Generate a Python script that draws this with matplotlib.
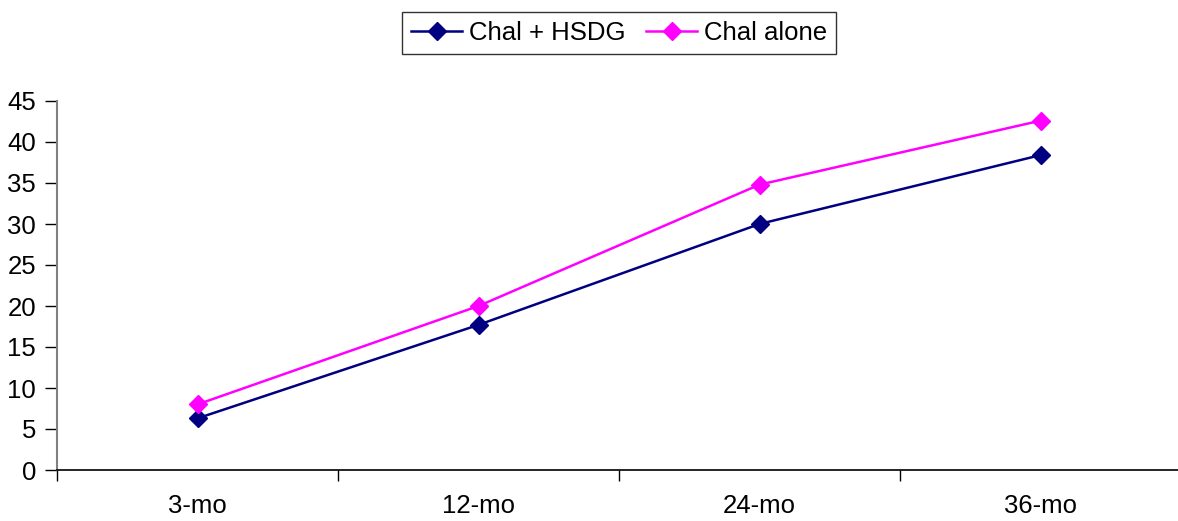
import numpy as np
import matplotlib.pyplot as plt
import matplotlib.ticker as ticker

plt.rcParams['font.family'] = ['Liberation Sans', 'DejaVu Sans']

# data
periods = ["3-mo", "12-mo", "24-mo", "36-mo"]
chal_hsdg = [6.3, 17.7, 30.0, 38.4]
chal_alone = [8.0, 20.0, 34.8, 42.6]

fig = plt.figure(figsize=(11.78, 5.21), dpi=100)
ax = fig.add_axes([57 / 1178, 51 / 521, 1124 / 1178, 369 / 521])

x = np.arange(len(periods))
ax.plot(x, chal_hsdg, color="#000080", lw=1.8, marker="D", ms=9, label="Chal + HSDG")
ax.plot(x, chal_alone, color="#FF00FF", lw=1.8, marker="D", ms=9, label="Chal alone")

ax.set_xlim(-0.5, len(periods) - 0.5)
ax.set_ylim(0, 45)
ax.yaxis.set_major_locator(ticker.MultipleLocator(5))
ax.set_xticks(x)
ax.set_xticklabels(periods)
ax.set_xticks(np.arange(len(periods) + 1) - 0.5, minor=True)

ax.tick_params(axis="x", which="major", length=0, pad=17, labelsize=18.5)
ax.tick_params(axis="x", which="minor", length=8, width=1, direction="out")
ax.tick_params(axis="y", length=9, width=1, pad=6, labelsize=18.5, color="black")

for s in ["top", "right"]:
    ax.spines[s].set_visible(False)
ax.spines["left"].set_color("#808080")
ax.spines["left"].set_linewidth(1.5)
ax.spines["bottom"].set_linewidth(1.2)

leg = fig.legend(loc="center", bbox_to_anchor=(619 / 1178, 1 - 33 / 521), ncol=2,
                 fontsize=18.5, frameon=True, fancybox=False, handlelength=2.0,
                 handletextpad=0.25, columnspacing=0.8, borderpad=0.35)
leg.get_frame().set_edgecolor("black")
leg.get_frame().set_linewidth(1)

fig.savefig("out.png", dpi=100)
